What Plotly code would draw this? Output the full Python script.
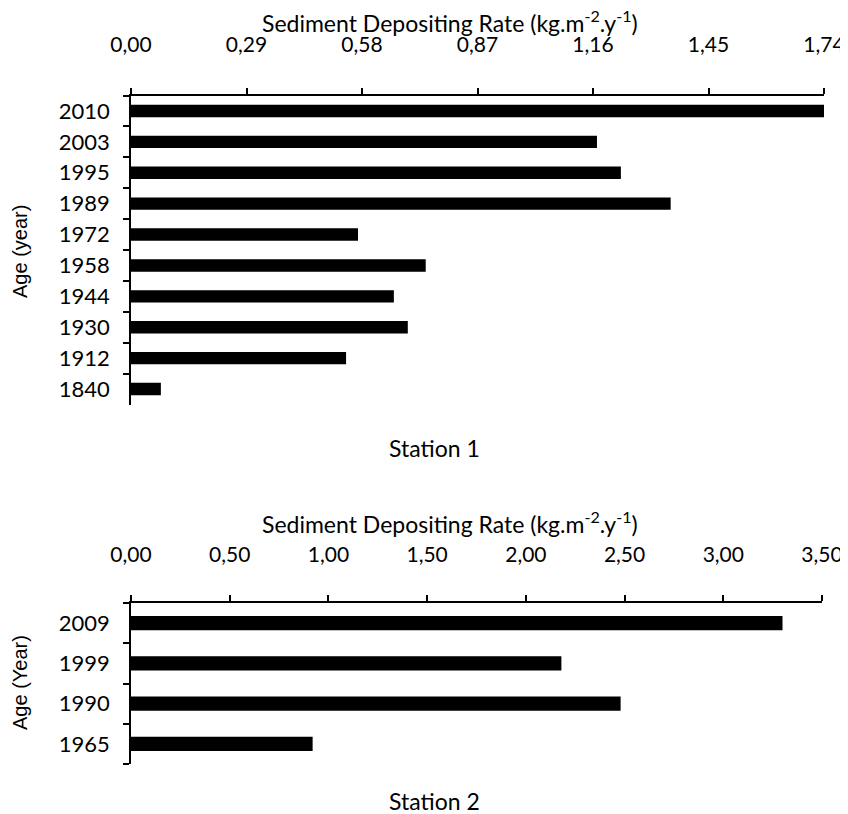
import plotly.graph_objects as go
from plotly.subplots import make_subplots

# Station 1 data
years1 = ["2010", "2003", "1995", "1989", "1972", "1958", "1944", "1930", "1912", "1840"]
rate1 = [1.75, 1.17, 1.23, 1.355, 0.57, 0.74, 0.66, 0.695, 0.54, 0.075]
ticks1 = [0.00, 0.29, 0.58, 0.87, 1.16, 1.45, 1.74]
ticktext1 = ["0,00", "0,29", "0,58", "0,87", "1,16", "1,45", "1,74"]

# Station 2 data
years2 = ["2009", "1999", "1990", "1965"]
rate2 = [3.30, 2.18, 2.48, 0.92]
ticks2 = [0.00, 0.50, 1.00, 1.50, 2.00, 2.50, 3.00, 3.50]
ticktext2 = ["0,00", "0,50", "1,00", "1,50", "2,00", "2,50", "3,00", "3,50"]

xtitle = "Sediment Depositing Rate (kg.m<sup>-2</sup>.y<sup>-1</sup>)"

W, H = 848, 814
OFF = 8  # page body margin
FONT = "Lato"
XTICKFONT = dict(family=FONT, size=21, color="black")
YTICKFONT = dict(family=FONT, size=22, color="black")

fig = make_subplots(rows=2, cols=1)

fig.add_trace(go.Bar(x=rate1, y=years1, orientation="h", marker=dict(color="black", line=dict(width=0)),
                     width=0.4, showlegend=False), row=1, col=1)
fig.add_trace(go.Bar(x=rate2, y=years2, orientation="h", marker=dict(color="black", line=dict(width=0)),
                     width=0.35, showlegend=False), row=2, col=1)

def px_x(p):
    return (p - OFF) / W

def px_y(p):
    return 1 - (p - OFF) / H

axis_common = dict(showline=True, linecolor="black", linewidth=1.5, ticks="outside", ticklen=6,
                   tickcolor="black", tickwidth=1.5, showgrid=False, zeroline=False,
                   automargin=False)

fig.update_xaxes(side="top", range=[0, 1.74], tickvals=ticks1, ticktext=ticktext1, tickfont=XTICKFONT,
                 domain=[px_x(131), px_x(824)], ticklabelstandoff=27, **axis_common, row=1, col=1)
fig.update_xaxes(side="top", range=[0, 3.5], tickvals=ticks2, ticktext=ticktext2, tickfont=XTICKFONT,
                 domain=[px_x(131), px_x(822)], ticklabelstandoff=25, **axis_common, row=2, col=1)

fig.update_yaxes(type="category", categoryorder="array", categoryarray=years1[::-1], tickson="boundaries",
                 tickfont=YTICKFONT, domain=[px_y(404.5), px_y(95.5)], ticklabelstandoff=15,
                 **axis_common, row=1, col=1)
fig.update_yaxes(type="category", categoryorder="array", categoryarray=years2[::-1], tickson="boundaries",
                 tickfont=YTICKFONT, domain=[px_y(764), px_y(603)], ticklabelstandoff=15,
                 **axis_common, row=2, col=1)

TFONT = dict(family=FONT, size=23, color="black")
annots = [
    dict(text=xtitle, x=px_x(450), y=px_y(22), font=TFONT),
    dict(text=xtitle, x=px_x(450), y=px_y(522), font=TFONT),
    dict(text="Station 1", x=px_x(434), y=px_y(448), font=TFONT),
    dict(text="Station 2", x=px_x(434), y=px_y(801), font=TFONT),
    dict(text="Age (year)", x=px_x(20), y=px_y(252), textangle=-90,
         font=dict(family="Liberation Sans", size=20, color="black")),
    dict(text="Age (Year)", x=px_x(20), y=px_y(683), textangle=-90,
         font=dict(family="Liberation Sans", size=20, color="black")),
]
for a in annots:
    a.update(xref="paper", yref="paper", showarrow=False, xanchor="center", yanchor="middle")
fig.update_layout(annotations=annots)

fig.update_layout(width=W, height=H, margin=dict(l=0, r=0, t=0, b=0, autoexpand=False),
                  plot_bgcolor="white", paper_bgcolor="white", bargap=0.6)

fig.write_html("out.html")
